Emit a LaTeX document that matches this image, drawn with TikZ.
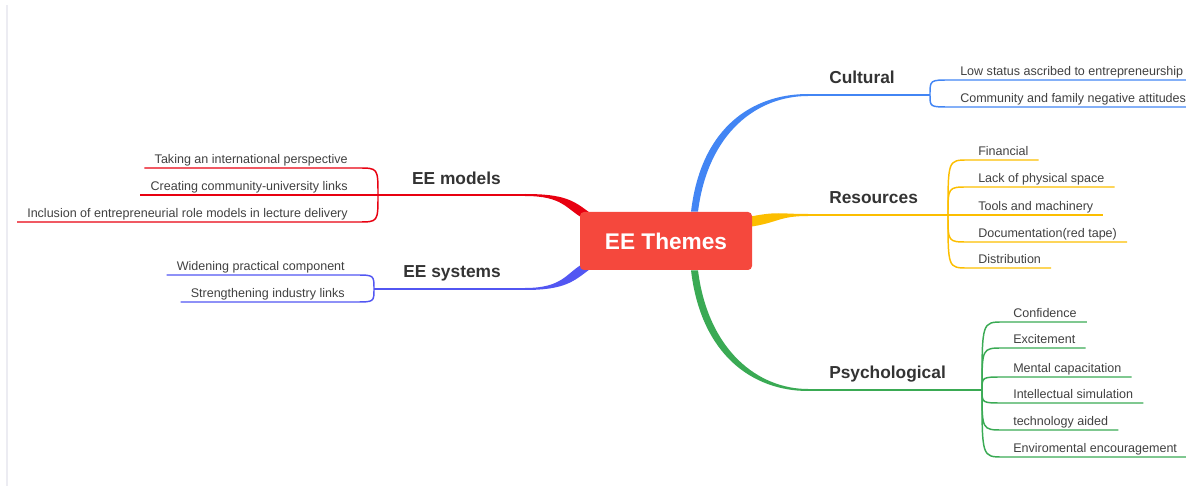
\documentclass[tikz,border=0pt]{standalone}
\usepackage{fontspec}
\setmainfont{Liberation Sans}
\usetikzlibrary{positioning,calc,backgrounds}

\definecolor{rootred}{RGB}{245,72,61}
\definecolor{modred}{RGB}{232,0,16}
\definecolor{sysblue}{RGB}{82,86,242}
\definecolor{cultblue}{RGB}{66,133,244}
\definecolor{resyellow}{RGB}{252,190,0}
\definecolor{psygreen}{RGB}{58,170,84}
\definecolor{leafgray}{RGB}{64,64,64}
\definecolor{labelgray}{RGB}{51,51,51}
\definecolor{edgegray}{RGB}{236,236,242}

\begin{document}
\begin{tikzpicture}[
  x=0.75pt, y=-0.75pt,
  root/.style={fill=rootred, rounded corners=3pt, minimum width=129pt, minimum height=43.5pt, text=white, font=\fontsize{17}{20}\selectfont\bfseries},
  branch/.style={font=\fontsize{13}{15}\selectfont\bfseries, text=labelgray, inner sep=0pt, text height=9.5pt, text depth=3pt},
  leaf/.style={font=\fontsize{9.4}{10}\selectfont, text=leafgray, inner xsep=7.5pt, inner ysep=1.5pt, text height=7pt, text depth=2pt},
  trunk/.style={line width=1.5pt},
  twig/.style={line width=1.1pt}
]
\useasboundingbox (0,0) rectangle (1186,488);

% Page edge
\draw[edgegray, line width=1.5pt] (7,5) -- (7,486);

% Central topic
\node[root] (root) at (666,241) {EE Themes};

% Branch labels
\node[branch, anchor=west] (cult) at (829,79) {Cultural};
\node[branch, anchor=west] (res) at (829,199) {Resources};
\node[branch, anchor=west] (psy) at (829,374) {Psychological};
\node[branch, anchor=east] (mod) at (501,180) {EE models};
\node[branch, anchor=east] (sys) at (501,273) {EE systems};

% Bends and hubs
\coordinate (cult-bend) at (808,95);
\coordinate (cult-hub) at (930,95);
\coordinate (res-bend) at (808,215);
\coordinate (res-hub) at (948,215);
\coordinate (psy-bend) at (808,390);
\coordinate (psy-hub) at (982,390);
\coordinate (mod-bend) at (525,195);
\coordinate (mod-hub) at (378,195);
\coordinate (sys-bend) at (525,289);
\coordinate (sys-hub) at (374,289);

% Tapered limbs out of the central topic
\begin{scope}[on background layer]
\fill[cultblue] ($(root.north)+(25,0)$) .. controls +(10,-85) and +(-55,0) .. ($(cult-bend)+(0,-1)$)
  -- ($(cult-bend)+(0,1)$) .. controls +(-50,0) and +(10,-80) .. ($(root.north)+(32,0)$) -- cycle;
\fill[resyellow] ($(root.east)+(-4,-24)$) .. controls +(30,-6) and +(-30,0) .. ($(res-bend)+(0,-1)$)
  -- ($(res-bend)+(0,1)$) .. controls +(-30,0) and +(30,-4) .. ($(root.east)+(-4,-14)$) -- cycle;
\fill[psygreen] ($(root.south)+(25,0)$) .. controls +(10,85) and +(-55,0) .. ($(psy-bend)+(0,1)$)
  -- ($(psy-bend)+(0,-1)$) .. controls +(-50,0) and +(10,80) .. ($(root.south)+(32,0)$) -- cycle;
\fill[modred] ($(mod-bend)+(0,-1)$) .. controls +(40,0) and +(-16,-12) .. ($(root.north west)+(10,1)$)
  -- ($(root.north west)+(4,7)$) .. controls +(-18,-10) and +(38,0) .. ($(mod-bend)+(0,1)$) -- cycle;
\fill[sysblue] ($(sys-bend)+(0,1)$) .. controls +(40,0) and +(-16,12) .. ($(root.south west)+(10,-1)$)
  -- ($(root.south west)+(4,-7)$) .. controls +(-18,10) and +(38,0) .. ($(sys-bend)+(0,-1)$) -- cycle;
\end{scope}

% Trunks
\draw[cultblue, trunk] (cult-bend) -- (cult-hub);
\draw[resyellow, trunk] (res-bend) -- (res-hub);
\draw[psygreen, trunk] (psy-bend) -- (psy-hub);
\draw[modred, trunk] (mod-bend) -- (mod-hub);
\draw[sysblue, trunk] (sys-bend) -- (sys-hub);

% Cultural leaves
\node[leaf, anchor=south west] (cult-1) at (950,80) {Low status ascribed to entrepreneurship};
\node[leaf, anchor=south west] (cult-2) at (950,107) {Community and family negative attitudes};
\draw[cultblue, twig] (cult-hub) .. controls (cult-hub |- cult-1.south west) .. (cult-1.south west) -- (cult-1.south east);
\draw[cultblue, twig] (cult-hub) .. controls (cult-hub |- cult-2.south west) .. (cult-2.south west) -- (cult-2.south east);

% Resources leaves
\node[leaf, anchor=south west] (res-1) at (968,160) {Financial};
\node[leaf, anchor=south west] (res-2) at (968,187) {Lack of physical space};
\node[leaf, anchor=south west] (res-3) at (968,215) {Tools and machinery};
\node[leaf, anchor=south west] (res-4) at (968,242) {Documentation(red tape)};
\node[leaf, anchor=south west] (res-5) at (968,268) {Distribution};
\draw[resyellow, twig] (res-hub) .. controls (res-hub |- res-1.south west) .. (res-1.south west) -- (res-1.south east);
\draw[resyellow, twig] (res-hub) .. controls (res-hub |- res-2.south west) .. (res-2.south west) -- (res-2.south east);
\draw[resyellow, twig] (res-hub) -- (res-3.south west) -- (res-3.south east);
\draw[resyellow, twig] (res-hub) .. controls (res-hub |- res-4.south west) .. (res-4.south west) -- (res-4.south east);
\draw[resyellow, twig] (res-hub) .. controls (res-hub |- res-5.south west) .. (res-5.south west) -- (res-5.south east);

% Psychological leaves
\node[leaf, anchor=south west] (psy-1) at (1003,322) {Confidence};
\node[leaf, anchor=south west] (psy-2) at (1003,348) {Excitement};
\node[leaf, anchor=south west] (psy-3) at (1003,377) {Mental capacitation};
\node[leaf, anchor=south west] (psy-4) at (1003,403) {Intellectual simulation};
\node[leaf, anchor=south west] (psy-5) at (1003,430) {technology aided};
\node[leaf, anchor=south west] (psy-6) at (1003,457) {Enviromental encouragement};
\draw[psygreen, twig] (psy-hub) .. controls (psy-hub |- psy-1.south west) .. (psy-1.south west) -- (psy-1.south east);
\draw[psygreen, twig] (psy-hub) .. controls (psy-hub |- psy-2.south west) .. (psy-2.south west) -- (psy-2.south east);
\draw[psygreen, twig] (psy-hub) .. controls (psy-hub |- psy-3.south west) .. (psy-3.south west) -- (psy-3.south east);
\draw[psygreen, twig] (psy-hub) .. controls (psy-hub |- psy-4.south west) .. (psy-4.south west) -- (psy-4.south east);
\draw[psygreen, twig] (psy-hub) .. controls (psy-hub |- psy-5.south west) .. (psy-5.south west) -- (psy-5.south east);
\draw[psygreen, twig] (psy-hub) .. controls (psy-hub |- psy-6.south west) .. (psy-6.south west) -- (psy-6.south east);

% EE models leaves
\node[leaf, anchor=south east] (mod-1) at (358,168) {Taking an international perspective};
\node[leaf, anchor=south east] (mod-2) at (358,195) {Creating community-university links};
\node[leaf, anchor=south east] (mod-3) at (358,222) {Inclusion of entrepreneurial role models in lecture delivery};
\draw[modred, twig] (mod-hub) .. controls (mod-hub |- mod-1.south east) .. (mod-1.south east) -- (mod-1.south west);
\draw[modred, twig] (mod-hub) -- (mod-2.south east) -- (mod-2.south west);
\draw[modred, twig] (mod-hub) .. controls (mod-hub |- mod-3.south east) .. (mod-3.south east) -- (mod-3.south west);

% EE systems leaves
\node[leaf, anchor=south east] (sys-1) at (355,275) {Widening practical component};
\node[leaf, anchor=south east] (sys-2) at (355,302) {Strengthening industry links};
\draw[sysblue, twig] (sys-hub) .. controls (sys-hub |- sys-1.south east) .. (sys-1.south east) -- (sys-1.south west);
\draw[sysblue, twig] (sys-hub) .. controls (sys-hub |- sys-2.south east) .. (sys-2.south east) -- (sys-2.south west);

\end{tikzpicture}
\end{document}
